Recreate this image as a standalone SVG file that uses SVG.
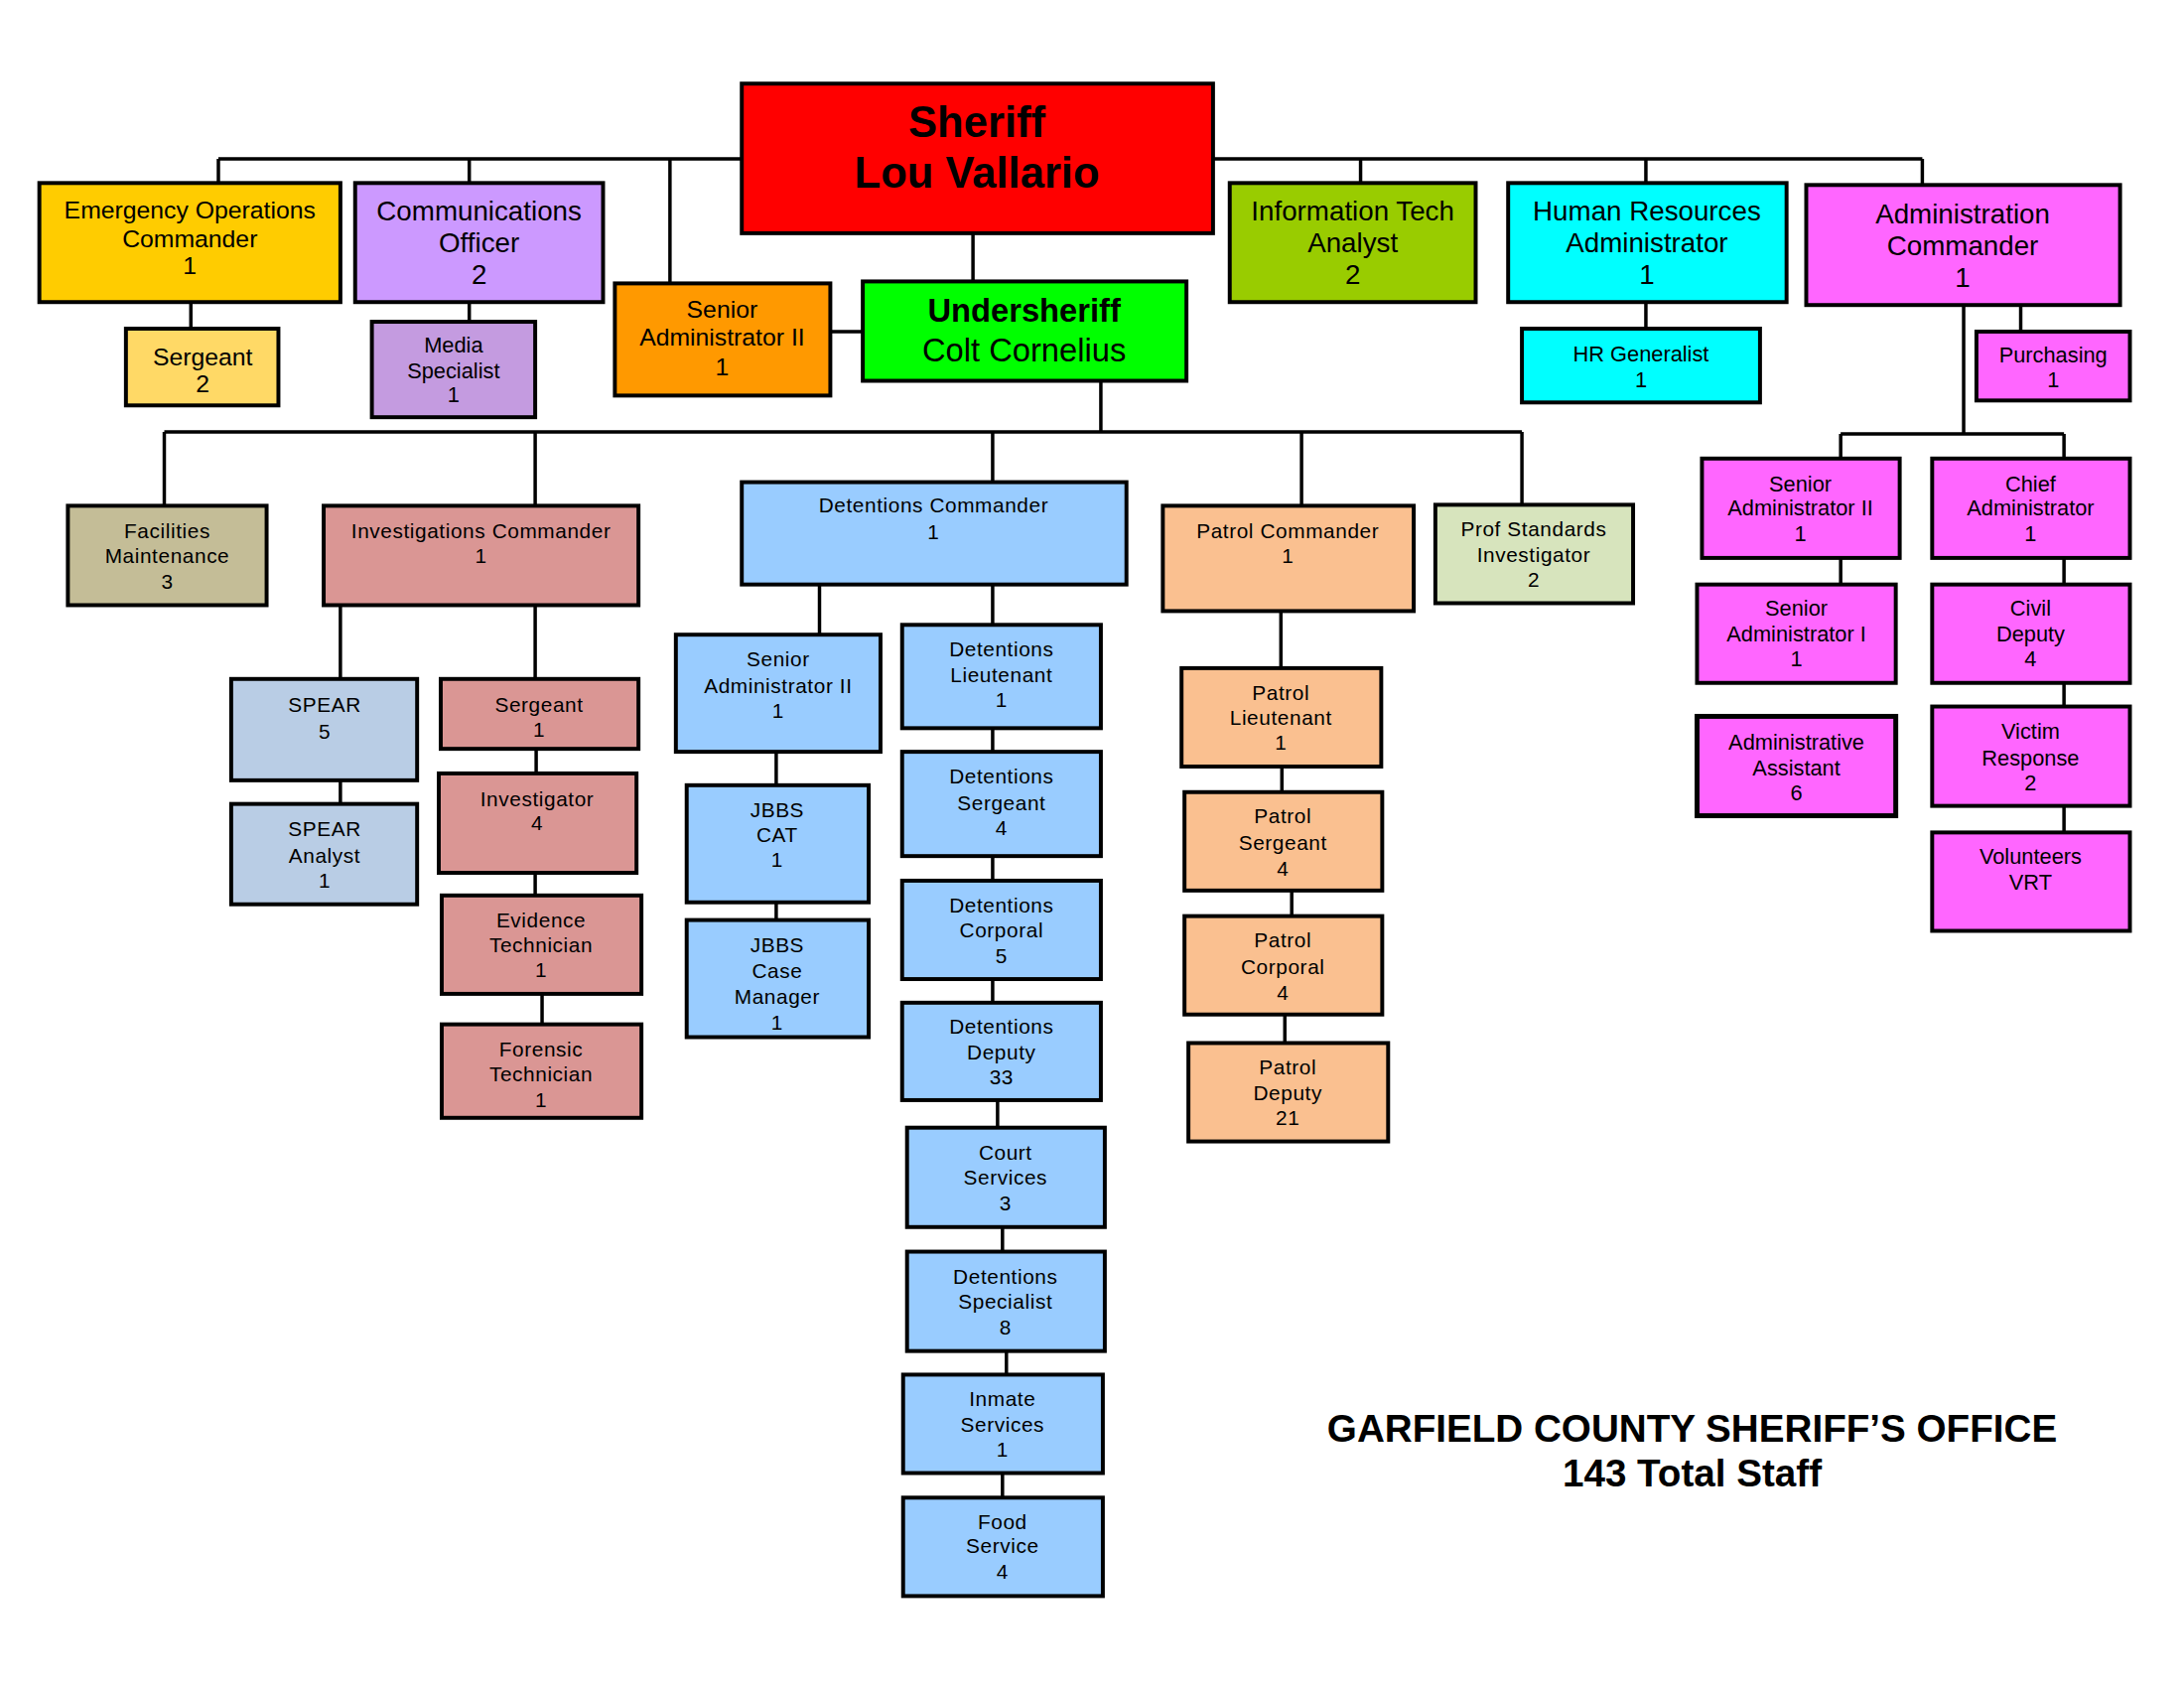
<svg xmlns="http://www.w3.org/2000/svg" width="2200" height="1700" viewBox="0 0 2200 1700">
<style>
.b{stroke:#000;stroke-width:4}
.c{stroke:#000;stroke-width:3.5;fill:none}
text{font-family:"Liberation Sans",Arial,sans-serif;text-anchor:middle;fill:#000}
.t1{font-size:44px;font-weight:bold}
.t2{font-size:33px}
.t3{font-size:28px}
.t4{font-size:25px}
.t5{font-size:22px}
.t6{font-size:21px;letter-spacing:0.6px}
.ft{font-size:39px;font-weight:bold}
.red{fill:#FF0000}.grn{fill:#00FF00}.yel{fill:#FFCC00}.lyel{fill:#FFD966}
.pur{fill:#CC99FF}.lpur{fill:#C49BE0}.org{fill:#FF9900}.olv{fill:#99CC00}
.cyn{fill:#00FFFF}.mag{fill:#FF66FF}.khk{fill:#C4BD97}.ros{fill:#DA9694}
.blu{fill:#99CCFF}.sbl{fill:#B9CDE5}.pch{fill:#FAC090}.sag{fill:#D7E4BD}
</style>
<rect width="2200" height="1700" fill="#fff"/>
<g id="chart" transform="scale(0.991)">
<g id="connectors">
<path class="c" d="M222 161.5H1954M222 161.5V186M477 161.5V186M681 161.5V288M1383 161.5V186M1673 161.5V186M1954 161.5V188"/>
<path class="c" d="M989 237V286"/>
<path class="c" d="M194 307V334M477 307V327M844 337H877M1673 307V334M2054 310V337"/>
<path class="c" d="M1996 310V441M1871 441H2098M1871 441V466M2098 441V466"/>
<path class="c" d="M1119 387V439M167 439H1547M167 439V514M544 439V514M1009 439V490M1323 439V514M1547 439V513"/>
<path class="c" d="M346 615V690M346 793V817M544 615V690M545 761V786M544 887V910M551 1010V1041"/>
<path class="c" d="M833 594V645M789 764V798M789 917V935"/>
<path class="c" d="M1009 594V635M1009 740V764M1009 870V895M1009 995V1019M1014 1118V1146M1019 1247V1272M1023 1373V1397M1019 1497V1522"/>
<path class="c" d="M1302 621V679M1303 779V805M1313 905V931M1306 1031V1060"/>
<path class="c" d="M1871 567V594M2098 567V594M2098 694V718M2098 819V846"/>
</g>
<g id="sheriff"><rect class="b red" x="754" y="85" width="479" height="152"/><text class="t1" x="993" y="139">Sheriff</text><text class="t1" x="993" y="191">Lou Vallario</text></g>
<g id="undersheriff"><rect class="b grn" x="877" y="286" width="329" height="101"/><text class="t2" x="1041" y="327" font-weight="bold">Undersheriff</text><text class="t2" x="1041" y="367">Colt Cornelius</text></g>
<g id="emergency"><rect class="b yel" x="40" y="186" width="306" height="121"/><text class="t4" x="193" y="222">Emergency Operations</text><text class="t4" x="193" y="251">Commander</text><text class="t4" x="193" y="279">1</text></g>
<g id="em-sergeant"><rect class="b lyel" x="128" y="334" width="155" height="78"/><text class="t4" x="206" y="371">Sergeant</text><text class="t4" x="206" y="399">2</text></g>
<g id="communications"><rect class="b pur" x="361" y="186" width="252" height="121"/><text class="t3" x="487" y="224">Communications</text><text class="t3" x="487" y="256">Officer</text><text class="t3" x="487" y="289">2</text></g>
<g id="media"><rect class="b lpur" x="378" y="327" width="166" height="97"/><text class="t5" x="461" y="358">Media</text><text class="t5" x="461" y="384">Specialist</text><text class="t5" x="461" y="409">1</text></g>
<g id="senior-admin-top"><rect class="b org" x="625" y="288" width="219" height="114"/><text class="t4" x="734" y="323">Senior</text><text class="t4" x="734" y="351">Administrator II</text><text class="t4" x="734" y="381">1</text></g>
<g id="it-analyst"><rect class="b olv" x="1250" y="186" width="250" height="121"/><text class="t3" x="1375" y="224">Information Tech</text><text class="t3" x="1375" y="256">Analyst</text><text class="t3" x="1375" y="289">2</text></g>
<g id="hr-admin"><rect class="b cyn" x="1533" y="186" width="283" height="121"/><text class="t3" x="1674" y="224">Human Resources</text><text class="t3" x="1674" y="256">Administrator</text><text class="t3" x="1674" y="289">1</text></g>
<g id="hr-generalist"><rect class="b cyn" x="1547" y="334" width="242" height="75"/><text class="t5" x="1668" y="367">HR Generalist</text><text class="t5" x="1668" y="394">1</text></g>
<g id="admin-commander"><rect class="b mag" x="1836" y="188" width="319" height="122"/><text class="t3" x="1995" y="227">Administration</text><text class="t3" x="1995" y="259">Commander</text><text class="t3" x="1995" y="292">1</text></g>
<g id="purchasing"><rect class="b mag" x="2009" y="337" width="156" height="70"/><text class="t5" x="2087" y="368">Purchasing</text><text class="t5" x="2087" y="394">1</text></g>
<g id="facilities"><rect class="b khk" x="69" y="514" width="202" height="101"/><text class="t6" x="170" y="547">Facilities</text><text class="t6" x="170" y="572">Maintenance</text><text class="t6" x="170" y="598">3</text></g>
<g id="investigations"><rect class="b ros" x="329" y="514" width="320" height="101"/><text class="t6" x="489" y="547">Investigations Commander</text><text class="t6" x="489" y="572">1</text></g>
<g id="spear"><rect class="b sbl" x="235" y="690" width="189" height="103"/><text class="t6" x="330" y="724">SPEAR</text><text class="t6" x="330" y="751">5</text></g>
<g id="spear-analyst"><rect class="b sbl" x="235" y="817" width="189" height="102"/><text class="t6" x="330" y="850">SPEAR</text><text class="t6" x="330" y="877">Analyst</text><text class="t6" x="330" y="902">1</text></g>
<g id="inv-sergeant"><rect class="b ros" x="448" y="690" width="201" height="71"/><text class="t6" x="548" y="724">Sergeant</text><text class="t6" x="548" y="749">1</text></g>
<g id="investigator"><rect class="b ros" x="446" y="786" width="201" height="101"/><text class="t6" x="546" y="819">Investigator</text><text class="t6" x="546" y="844">4</text></g>
<g id="evidence"><rect class="b ros" x="449" y="910" width="203" height="100"/><text class="t6" x="550" y="942">Evidence</text><text class="t6" x="550" y="968">Technician</text><text class="t6" x="550" y="993">1</text></g>
<g id="forensic"><rect class="b ros" x="449" y="1041" width="203" height="95"/><text class="t6" x="550" y="1074">Forensic</text><text class="t6" x="550" y="1099">Technician</text><text class="t6" x="550" y="1125">1</text></g>
<g id="detentions-commander"><rect class="b blu" x="754" y="490" width="391" height="104"/><text class="t6" x="949" y="521">Detentions Commander</text><text class="t6" x="949" y="548">1</text></g>
<g id="det-senior-admin"><rect class="b blu" x="687" y="645" width="208" height="119"/><text class="t6" x="791" y="677">Senior</text><text class="t6" x="791" y="704">Administrator II</text><text class="t6" x="791" y="730">1</text></g>
<g id="jbbs-cat"><rect class="b blu" x="698" y="798" width="185" height="119"/><text class="t6" x="790" y="830">JBBS</text><text class="t6" x="790" y="856">CAT</text><text class="t6" x="790" y="881">1</text></g>
<g id="jbbs-case"><rect class="b blu" x="698" y="935" width="185" height="119"/><text class="t6" x="790" y="968">JBBS</text><text class="t6" x="790" y="994">Case</text><text class="t6" x="790" y="1020">Manager</text><text class="t6" x="790" y="1046">1</text></g>
<g id="det-lieutenant"><rect class="b blu" x="917" y="635" width="202" height="105"/><text class="t6" x="1018" y="667">Detentions</text><text class="t6" x="1018" y="693">Lieutenant</text><text class="t6" x="1018" y="718">1</text></g>
<g id="det-sergeant"><rect class="b blu" x="917" y="764" width="202" height="106"/><text class="t6" x="1018" y="796">Detentions</text><text class="t6" x="1018" y="823">Sergeant</text><text class="t6" x="1018" y="849">4</text></g>
<g id="det-corporal"><rect class="b blu" x="917" y="895" width="202" height="100"/><text class="t6" x="1018" y="927">Detentions</text><text class="t6" x="1018" y="953">Corporal</text><text class="t6" x="1018" y="979">5</text></g>
<g id="det-deputy"><rect class="b blu" x="917" y="1019" width="202" height="99"/><text class="t6" x="1018" y="1050">Detentions</text><text class="t6" x="1018" y="1077">Deputy</text><text class="t6" x="1018" y="1102">33</text></g>
<g id="court"><rect class="b blu" x="922" y="1146" width="201" height="101"/><text class="t6" x="1022" y="1179">Court</text><text class="t6" x="1022" y="1204">Services</text><text class="t6" x="1022" y="1230">3</text></g>
<g id="det-specialist"><rect class="b blu" x="922" y="1272" width="201" height="101"/><text class="t6" x="1022" y="1305">Detentions</text><text class="t6" x="1022" y="1330">Specialist</text><text class="t6" x="1022" y="1356">8</text></g>
<g id="inmate"><rect class="b blu" x="918" y="1397" width="203" height="100"/><text class="t6" x="1019" y="1429">Inmate</text><text class="t6" x="1019" y="1455">Services</text><text class="t6" x="1019" y="1480">1</text></g>
<g id="food"><rect class="b blu" x="918" y="1522" width="203" height="100"/><text class="t6" x="1019" y="1554">Food</text><text class="t6" x="1019" y="1578">Service</text><text class="t6" x="1019" y="1604">4</text></g>
<g id="patrol-commander"><rect class="b pch" x="1182" y="514" width="255" height="107"/><text class="t6" x="1309" y="547">Patrol Commander</text><text class="t6" x="1309" y="572">1</text></g>
<g id="patrol-lieutenant"><rect class="b pch" x="1201" y="679" width="203" height="100"/><text class="t6" x="1302" y="711">Patrol</text><text class="t6" x="1302" y="737">Lieutenant</text><text class="t6" x="1302" y="762">1</text></g>
<g id="patrol-sergeant"><rect class="b pch" x="1204" y="805" width="201" height="100"/><text class="t6" x="1304" y="837">Patrol</text><text class="t6" x="1304" y="864">Sergeant</text><text class="t6" x="1304" y="890">4</text></g>
<g id="patrol-corporal"><rect class="b pch" x="1204" y="931" width="201" height="100"/><text class="t6" x="1304" y="963">Patrol</text><text class="t6" x="1304" y="990">Corporal</text><text class="t6" x="1304" y="1016">4</text></g>
<g id="patrol-deputy"><rect class="b pch" x="1208" y="1060" width="203" height="100"/><text class="t6" x="1309" y="1092">Patrol</text><text class="t6" x="1309" y="1118">Deputy</text><text class="t6" x="1309" y="1143">21</text></g>
<g id="prof-standards"><rect class="b sag" x="1459" y="513" width="201" height="100"/><text class="t6" x="1559" y="545">Prof Standards</text><text class="t6" x="1559" y="571">Investigator</text><text class="t6" x="1559" y="596">2</text></g>
<g id="adm-senior-admin-2"><rect class="b mag" x="1730" y="466" width="201" height="101"/><text class="t5" x="1830" y="499">Senior</text><text class="t5" x="1830" y="524">Administrator II</text><text class="t5" x="1830" y="550">1</text></g>
<g id="adm-senior-admin-1"><rect class="b mag" x="1725" y="594" width="202" height="100"/><text class="t5" x="1826" y="626">Senior</text><text class="t5" x="1826" y="652">Administrator I</text><text class="t5" x="1826" y="677">1</text></g>
<g id="adm-assistant"><rect class="mag" x="1725" y="728" width="202" height="101" stroke="#000" stroke-width="5"/><text class="t5" x="1826" y="762">Administrative</text><text class="t5" x="1826" y="788">Assistant</text><text class="t5" x="1826" y="813">6</text></g>
<g id="chief-admin"><rect class="b mag" x="1964" y="466" width="201" height="101"/><text class="t5" x="2064" y="499">Chief</text><text class="t5" x="2064" y="524">Administrator</text><text class="t5" x="2064" y="550">1</text></g>
<g id="civil-deputy"><rect class="b mag" x="1964" y="594" width="201" height="100"/><text class="t5" x="2064" y="626">Civil</text><text class="t5" x="2064" y="652">Deputy</text><text class="t5" x="2064" y="677">4</text></g>
<g id="victim-response"><rect class="b mag" x="1964" y="718" width="201" height="101"/><text class="t5" x="2064" y="751">Victim</text><text class="t5" x="2064" y="778">Response</text><text class="t5" x="2064" y="803">2</text></g>
<g id="volunteers"><rect class="b mag" x="1964" y="846" width="201" height="100"/><text class="t5" x="2064" y="878">Volunteers</text><text class="t5" x="2064" y="904">VRT</text></g>
<g id="footer"><text class="ft" x="1720" y="1465">GARFIELD COUNTY SHERIFF’S OFFICE</text><text class="ft" x="1720" y="1511">143 Total Staff</text></g>
</g>
</svg>
